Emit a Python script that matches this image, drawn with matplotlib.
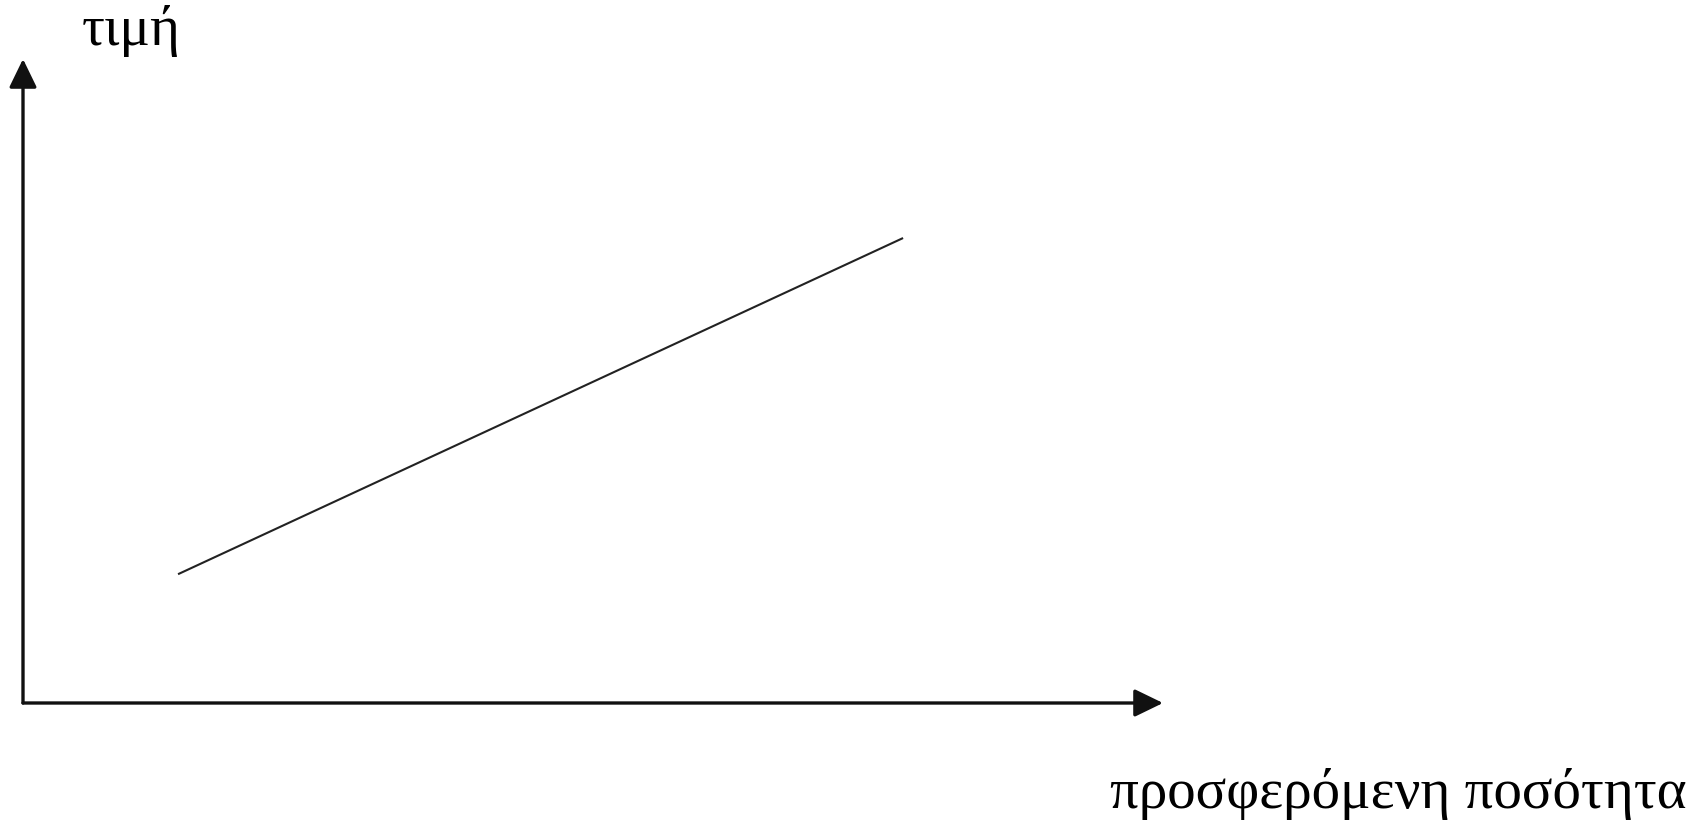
import matplotlib
matplotlib.use("Agg")
import matplotlib.pyplot as plt

# Data: supply line (quantity, price) in axis units (0..10)
quantity = [1.36, 7.72]
price = [2.0, 7.22]
x_label = "προσφερόμενη ποσότητα"
y_label = "τιμή"

W, H = 1706, 826
fig = plt.figure(figsize=(W / 100, H / 100), dpi=100)
fig.patch.set_facecolor("white")

ox, oy = 23, 703      # origin in pixels
tx, ty = 1163, 59     # arrow tips in pixels
ax = fig.add_axes([ox / W, (H - oy) / H, (tx - ox) / W, (oy - ty) / H])
ax.set_xlim(0, 10)
ax.set_ylim(0, 10)
ax.axis("off")

arrow = dict(arrowstyle="-|>,head_length=1.75,head_width=0.85", lw=2.4,
             color="#111111", shrinkA=0, shrinkB=0)
ax.annotate("", xy=(1, 0), xytext=(0, 0), xycoords="axes fraction",
            textcoords="axes fraction", arrowprops=arrow, annotation_clip=False)
ax.annotate("", xy=(0, 1), xytext=(0, 0), xycoords="axes fraction",
            textcoords="axes fraction", arrowprops=arrow, annotation_clip=False)

ax.plot(quantity, price, color="#222222", lw=1.5, solid_capstyle="butt")

font = "Liberation Serif"
fig.text(82 / W, 1 - 45 / H, y_label, fontsize=41, family=font,
         ha="left", va="baseline")
fig.text(1110 / W, 1 - 808 / H, x_label, fontsize=41, family=font,
         ha="left", va="baseline")

fig.savefig("out.png", dpi=100, facecolor="white")
